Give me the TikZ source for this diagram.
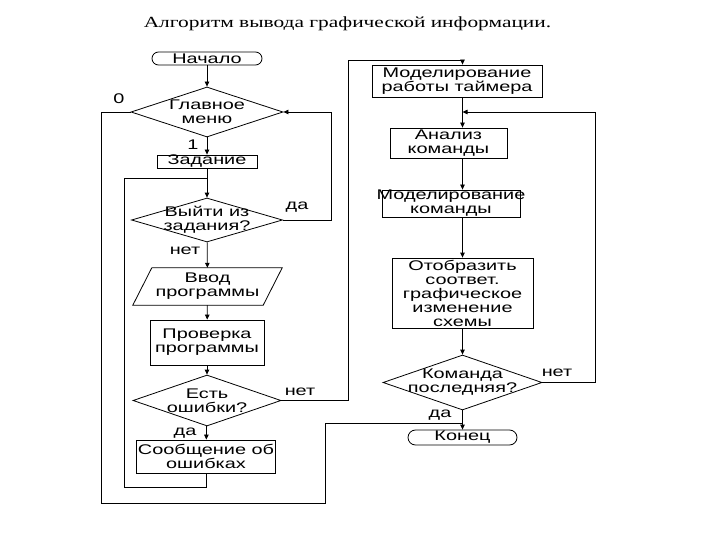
\documentclass[tikz,border=0pt]{standalone}
\usepackage{fontspec}
\usetikzlibrary{shapes.geometric,shapes.misc,arrows.meta}
\newfontfamily\flowfont[FakeStretch=1.42]{Liberation Sans}
\newfontfamily\titlefont[FakeStretch=1.38]{Liberation Serif}
\newcommand{\flowtxt}{\fontsize{14}{14}\selectfont\flowfont}
\tikzset{
  x=1pt, y=-1pt,
  line/.style={draw=black, line width=0.8pt},
  arr/.style={line, -{Triangle[length=5pt,width=4.5pt]}},
  box/.style={draw, line width=0.8pt, rectangle, inner sep=0pt},
  term/.style={draw, line width=0.8pt, rounded rectangle, inner sep=0pt},
  dia/.style={draw, line width=0.8pt, diamond, inner sep=0pt},
  frame/.style={rectangle, inner sep=0pt},
  txt/.style={font=\flowtxt, align=center, inner sep=0pt},
  lbl/.style={font=\flowtxt, inner sep=0pt}
}
\begin{document}
\begin{tikzpicture}
\useasboundingbox (0,0) rectangle (720,540);
\fill[white] (0,0) rectangle (720,540);
% title
\node[inner sep=0pt, font=\fontsize{15.5}{17}\selectfont\titlefont] (title) at (347.5,24) {Алгоритм вывода графической информации.};
% left column shapes
\node[term, minimum width=110, minimum height=13] (start) at (207,58.5) {};
\node[txt] at (start) {Начало};
\node[dia, minimum width=152, minimum height=50] (menu) at (207,112) {};
\node[txt] at (menu) {Главное\\меню};
\node[box, minimum width=100, minimum height=13] (zad) at (207,161.5) {};
\node[txt] at (zad) {Задание};
\node[dia, minimum width=151, minimum height=44] (exit) at (207,220) {};
\node[txt] at (exit) {Выйти из\\задания?};
\node[frame, minimum width=149, minimum height=37] (vvod) at (207.5,286.5) {};
\draw[line] ([xshift=19pt]vvod.north west) -- (vvod.north east) -- ([xshift=-19pt]vvod.south east) -- (vvod.south west) -- cycle;
\node[txt] at (vvod) {Ввод\\программы};
\node[box, minimum width=114, minimum height=45] (prov) at (207,342.5) {};
\node[txt] at (prov) {Проверка\\программы};
\node[dia, minimum width=148, minimum height=51] (err) at (207,400.5) {};
\node[txt] at (err) {Есть\\ошибки?};
\node[box, minimum width=139, minimum height=33] (msg) at (206,456.5) {};
\node[txt] at (msg) {Сообщение об\\ошибках};
% right column shapes
\node[box, minimum width=170, minimum height=32] (timer) at (457,81) {};
\node[txt] at (timer) {Моделирование\\работы таймера};
\node[box, minimum width=117, minimum height=30] (anal) at (448.5,143) {};
\node[txt] at (anal) {Анализ\\команды};
\node[box, minimum width=138, minimum height=27] (modk) at (451,203.5) {};
\node[txt] at (modk) {Моделирование\\команды};
\node[box, minimum width=141, minimum height=70] (show) at (462.5,293) {};
\node[txt] at (show) {Отобразить\\соответ.\\графическое\\изменение\\схемы};
\node[dia, minimum width=159, minimum height=55] (last) at (462.5,382.5) {};
\node[txt] at (last) {Команда\\последняя?};
\node[term, minimum width=109, minimum height=15] (end) at (462.5,437.5) {};
\node[txt] at (end) {Конец};
% helper coordinates
\coordinate (rx) at (462.5,0);
\coordinate (o1) at (101,503);
\coordinate (o2) at (325,423);
\coordinate (i1) at (124,487);
\coordinate (i2) at (207,178);
\coordinate (y1) at (331,220);
\coordinate (n1) at (348,60);
\coordinate (n2) at (595,112);
% left connectors
\draw[arr] (start) -- (menu);
\draw[arr] (menu) -- (zad);
\draw[arr] (zad) -- (exit);
\draw[arr] (exit) -- (vvod);
\draw[arr] (vvod) -- (prov);
\draw[arr] (prov) -- (err);
\draw[arr] (err) -- (msg);
\draw[line] (msg.south) |- (i1) |- (i2);
\draw[arr] (exit.east) -| (y1) |- (menu.east);
\draw[line] (menu.west) -| (o1) -| (o2) -- (o2 -| rx);
\draw[arr] (err.east) -| (n1) -| (timer.north -| rx);
% right connectors
\draw[arr] (timer.south -| rx) -- (anal.north -| rx);
\draw[arr] (anal.south -| rx) -- (modk.north -| rx);
\draw[arr] (modk.south -| rx) -- (show.north -| rx);
\draw[arr] (show) -- (last);
\draw[arr] (last) -- (end);
\draw[arr] (last.east) -| (n2) -- (n2 -| rx);
% labels
\node[lbl] at (119,99) {0};
\node[lbl] at (193,145) {1};
\node[lbl] at (297,207) {да};
\node[lbl] at (185,251) {нет};
\node[lbl] at (300,392) {нет};
\node[lbl] at (185,433) {да};
\node[lbl] at (557,373) {нет};
\node[lbl] at (440,415) {да};
\end{tikzpicture}
\end{document}
